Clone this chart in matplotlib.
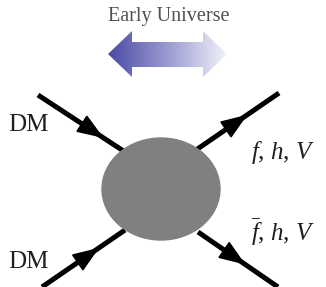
import numpy as np
import matplotlib
matplotlib.use("Agg")
import matplotlib.pyplot as plt
from matplotlib.patches import Ellipse, Polygon
from matplotlib.colors import LinearSegmentedColormap

W, H = 326, 287

# legs: (outer end, inner end) in pixel coords, y measured from the top
LEG_OUTER = [(38, 95), (279, 93), (42, 287), (278, 287)]
LEG_INNER = [(125, 152), (196, 150), (125, 230), (198, 232)]
ARROW_POS = [0.62, 0.52, 0.55, 0.55]      # fraction along the leg
ARROW_DIR = [1, -1, 1, -1]                # +1 points inward, -1 outward
LABELS = ["DM", "$f$, $h$, $V$", "DM", r"$\bar{f}$, $h$, $V$"]
LABEL_XY = [(28, 125), (283, 152), (28, 262), (283, 232)]
TITLE = "Early Universe"

plt.rcParams["font.family"] = ["Liberation Serif", "DejaVu Serif"]
plt.rcParams["mathtext.fontset"] = "custom"
plt.rcParams["mathtext.it"] = "Liberation Serif:italic"
plt.rcParams["mathtext.rm"] = "Liberation Serif"

fig = plt.figure(figsize=(W / 100, H / 100), dpi=100)
ax = fig.add_axes([0, 0, 1, 1])
ax.set_xlim(0, W)
ax.set_ylim(H, 0)
ax.axis("off")

# legs with arrowheads
for (x0, y0), (x1, y1), t, d in zip(LEG_OUTER, LEG_INNER, ARROW_POS, ARROW_DIR):
    ax.plot([x0, x1], [y0, y1], color="black", lw=3.6, solid_capstyle="butt",
            zorder=2)
    v = np.array([x1 - x0, y1 - y0], float)
    v /= np.hypot(*v)
    if d < 0:
        v = -v
    n = np.array([-v[1], v[0]])
    c = np.array([x0 + t * (x1 - x0), y0 + t * (y1 - y0)])
    tip = c + v * 12
    base = c - v * 12
    head = [tip, base + n * 9, base - n * 9]
    ax.add_patch(Polygon(head, closed=True, color="black", zorder=3))

# blob
ax.add_patch(Ellipse((161, 189), 118, 102, color="#808080", zorder=4))

# gradient double arrow
arrow = Polygon([(108, 54), (132, 31), (132, 42), (203, 42), (203, 31),
                 (227, 54), (203, 77), (203, 67), (132, 67), (132, 77)],
                closed=True, facecolor="none", edgecolor="none")
ax.add_patch(arrow)
cmap = LinearSegmentedColormap.from_list("eu", ["#4a4aa6", "#9a9ad0", "#f2f2fa"])
grad = np.linspace(0, 1, 256).reshape(1, -1)
im = ax.imshow(grad, cmap=cmap, extent=(108, 227, 77, 31), aspect="auto",
               zorder=5)
im.set_clip_path(arrow)

ax.text(169, 16, TITLE, ha="center", va="center", fontsize=14.5,
        color="#505050")

for lab, (x, y) in zip(LABELS, LABEL_XY):
    size = 18 if lab == "DM" else 18
    ax.text(x, y, lab, ha="center", va="center", fontsize=size,
            color="#202020")

ax.set_xlim(0, W)
ax.set_ylim(H, 0)
fig.savefig("out.png", dpi=100)
